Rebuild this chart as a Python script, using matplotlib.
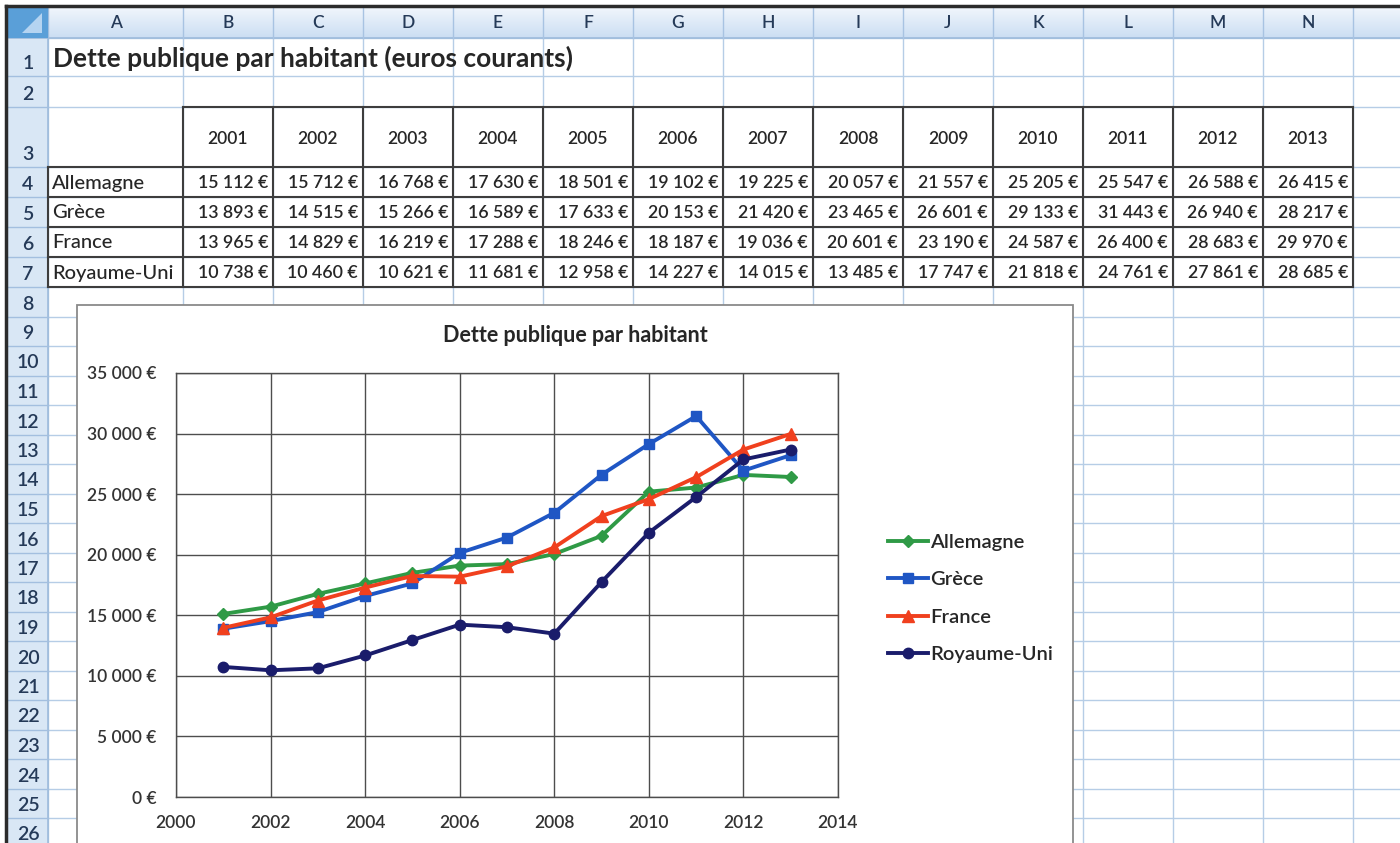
import matplotlib
matplotlib.use("Agg")
import matplotlib.pyplot as plt
import numpy as np
from matplotlib.patches import Rectangle, Polygon
from matplotlib.ticker import FuncFormatter

plt.rcParams['font.family'] = ['Lato', 'DejaVu Sans']

# data read from the sheet
years = [2001, 2002, 2003, 2004, 2005, 2006, 2007, 2008, 2009, 2010, 2011, 2012, 2013]
countries = ['Allemagne', 'Grèce', 'France', 'Royaume-Uni']
allemagne = [15112, 15712, 16768, 17630, 18501, 19102, 19225, 20057, 21557, 25205, 25547, 26588, 26415]
grece = [13893, 14515, 15266, 16589, 17633, 20153, 21420, 23465, 26601, 29133, 31443, 26940, 28217]
france = [13965, 14829, 16219, 17288, 18246, 18187, 19036, 20601, 23190, 24587, 26400, 28683, 29970]
royaume_uni = [10738, 10460, 10621, 11681, 12958, 14227, 14015, 13485, 17747, 21818, 24761, 27861, 28685]
series = [allemagne, grece, france, royaume_uni]
col_letters = list('ABCDEFGHIJKLMNO')

colors = ['#2f9a46', '#1f56c4', '#f0401e', '#1a1c6b']
markers = ['D', 's', '^', 'o']
msizes = [6.5, 7, 8, 7.5]

W, H = 1400, 843
fig = plt.figure(figsize=(W / 100, H / 100), dpi=100)
bg = fig.add_axes([0, 0, 1, 1])
bg.set_xlim(0, W)
bg.set_ylim(H, 0)
bg.axis('off')

# sheet geometry (pixels)
col_edges = [48, 183] + [183 + 90 * i for i in range(1, 15)]
row_edges = [38, 76, 107, 167, 197, 227, 257, 287] + [287 + 29.5 * k for k in range(1, 20)]

grid_c = '#b6cde6'
for x in col_edges:
    bg.plot([x, x], [38, H], color=grid_c, lw=1, zorder=1)
for y in row_edges:
    bg.plot([48, W], [y, y], color=grid_c, lw=1, zorder=1)

# column headers
grad = np.linspace(0, 1, 50).reshape(-1, 1)
bg.imshow(grad, extent=[7, W, 38, 7], cmap=matplotlib.colors.LinearSegmentedColormap.from_list(
    'hdr', ['#f1f6fc', '#cbdef3']), aspect='auto', zorder=2)
bg.plot([7, W], [38, 38], color='#9dbbdc', lw=1.2, zorder=3)
for i, x in enumerate(col_edges):
    bg.plot([x, x], [7, 38], color='#a8c3e2', lw=1, zorder=3)
    if i < len(col_edges) - 1:
        cx = (x + col_edges[i + 1]) / 2
        if cx < W - 20:
            bg.text(cx, 23, col_letters[i], ha='center', va='center', fontsize=12.5,
                    fontweight='semibold', color='#253a58', zorder=4)

# row headers
bg.add_patch(Rectangle((7, 38), 41, H - 38, facecolor='#d9e7f5', edgecolor='none', zorder=2))
bg.plot([48, 48], [7, H], color='#9dbbdc', lw=1.2, zorder=3)
for r in range(len(row_edges) - 1):
    top, bot = row_edges[r], row_edges[r + 1]
    bg.plot([7, 48], [bot, bot], color='#a3bfdf', lw=1, zorder=3)
    if top < H:
        bg.text(28, bot - 4, str(r + 1), ha='center', va='bottom', fontsize=14,
                fontweight='semibold', color='#253a58', zorder=4)

# corner cell
bg.add_patch(Rectangle((7, 7), 41, 31, facecolor='#5a9fd8', edgecolor='none', zorder=3))
bg.add_patch(Polygon([[42, 13], [42, 33], [22, 33]], closed=True, facecolor='#b5d4f1',
                     edgecolor='none', zorder=4))

# outer dark frame
bg.plot([6, W], [6, 6], color='#2b2b2b', lw=2.5, zorder=5)
bg.plot([6, 6], [6, H], color='#2b2b2b', lw=2.5, zorder=5)

# sheet title
bg.text(53, 58, 'Dette publique par habitant (euros courants)', ha='left', va='center',
        fontsize=19, fontweight='bold', color='#262626', zorder=4)

# table
txt_c = '#262626'
for j, yr in enumerate(years):
    cx = (col_edges[j + 1] + col_edges[j + 2]) / 2
    bg.text(cx, 139, str(yr), ha='center', va='center', fontsize=12.5,
            fontweight='semibold', color=txt_c, zorder=4)
for i, (name, vals) in enumerate(zip(countries, series)):
    top, bot = row_edges[3 + i], row_edges[4 + i]
    cy = (top + bot) / 2 + 1
    bg.text(52, cy, name, ha='left', va='center', fontsize=14.5, fontweight='medium',
            color=txt_c, zorder=4)
    for j, v in enumerate(vals):
        s = f'{v:,}'.replace(',', ' ') + ' €'
        bg.text(col_edges[j + 2] - 5, cy, s, ha='right', va='center', fontsize=12.8,
                fontweight='semibold', color=txt_c, zorder=4)

bc = '#3d3d3d'
tx0, tx1 = col_edges[1], col_edges[14]
for y in row_edges[2:8]:
    bg.plot([tx0 if y == row_edges[2] else col_edges[0], tx1], [y, y], color=bc, lw=1.5, zorder=4)
for k, x in enumerate(col_edges[:15]):
    y0 = row_edges[3] if k == 0 else row_edges[2]
    bg.plot([x, x], [y0, row_edges[7]], color=bc, lw=1.5, zorder=4)

# chart object
bg.add_patch(Rectangle((77, 305), 996, 600, facecolor='white', edgecolor='#8a8a8a',
                       lw=1.3, zorder=6))
bg.text(575, 335, 'Dette publique par habitant', ha='center', va='center', fontsize=15.5,
        fontweight='bold', color='#262626', zorder=7)

px0, px1, py0, py1 = 176, 838, 373, 797
ax = fig.add_axes([px0 / W, 1 - py1 / H, (px1 - px0) / W, (py1 - py0) / H], zorder=10)
ax.set_facecolor('white')
for name, vals, c, m, ms in zip(countries, series, colors, markers, msizes):
    ax.plot(years, vals, color=c, lw=2.8, marker=m, markersize=ms, markerfacecolor=c,
            markeredgecolor=c, label=name)
ax.set_xlim(2000, 2014)
ax.set_ylim(0, 35000)
ax.set_xticks(range(2000, 2015, 2))
ax.set_yticks(range(0, 35001, 5000))
ax.yaxis.set_major_formatter(FuncFormatter(lambda v, p: f'{int(v):,}'.replace(',', ' ') + ' €'))
ax.grid(True, color='#4d4d4d', lw=1)
ax.set_axisbelow(True)
for sp in ax.spines.values():
    sp.set_color('#4d4d4d')
    sp.set_linewidth(1)
ax.tick_params(axis='both', length=0, labelsize=12.5, labelcolor='#333333')
for lab in ax.get_xticklabels() + ax.get_yticklabels():
    lab.set_fontweight('semibold')
ax.tick_params(axis='y', pad=14)
ax.tick_params(axis='x', pad=13)

leg = ax.legend(loc='upper left', bbox_to_anchor=(888 / W, 1 - 534 / H),
                bbox_transform=fig.transFigure, frameon=False, fontsize=14.5, handlelength=2.0,
                handletextpad=0.1, labelspacing=1.0, borderpad=0, borderaxespad=0,
                labelcolor='#262626')
for t in leg.get_texts():
    t.set_fontweight('semibold')

fig.savefig('out.png', dpi=100)
